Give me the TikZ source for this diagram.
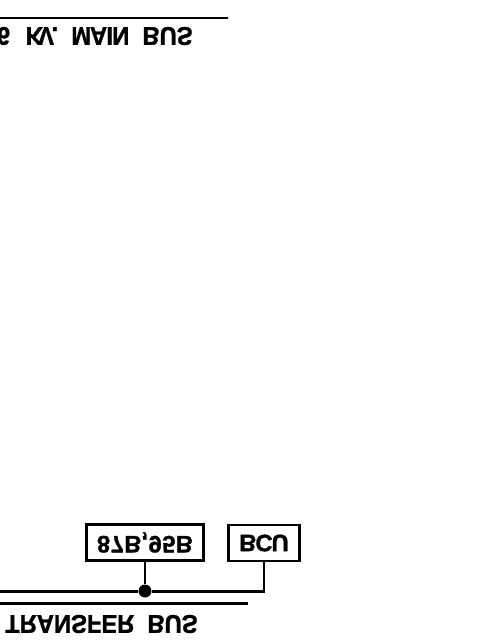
\documentclass[tikz,border=0pt]{standalone}
\usepackage{fontspec}
\setmainfont[BoldFeatures={FakeBold=1.2}]{Liberation Sans}
\tikzset{
  buslabel/.style={yscale=-1.08,inner sep=0pt,font=\fontsize{13.5}{14}\bfseries},
  relaybox/.style={draw,line width=1.5pt,minimum height=.72cm,inner sep=0pt,font=\fontsize{13.5}{14}\bfseries},
  busline/.style={line width=1.7pt}
}
\begin{document}
\begin{tikzpicture}[x=.02cm,y=-.02cm]
  \clip (0,0) rectangle (480,640);
  \coordinate (mainl) at (-10,18);
  \coordinate (mainr) at (228,18);
  \coordinate (transl) at (-10,603);
  \coordinate (transr) at (248,603);
  \coordinate (wirel) at (-10,591);
  \coordinate (wirec) at (264,591);
  \node [relaybox,minimum width=2.34cm,yscale=-1] (87b) at (145,542.5) {8\kern.02em 7\kern.02em B,\kern.02em 9\kern.02em 5\kern.02em B};
  \node [relaybox,minimum width=1.42cm,yscale=-1] (bcu) at (264,543) {B\kern-.04em C\kern-.04em U};
  \node [circle,fill,inner sep=0pt,minimum size=.26cm] (tap) at (145,591) {};
  \node [buslabel,anchor=east] (mainlab) at (193,36) {6\kern8.9pt K\kern-.2em V\kern-.1em .\ \ M\kern-.05em A\kern-.03em I\kern-.03em N\ \ BUS};
  \node [buslabel,anchor=east] (translab) at (198,624) {6\ \ KV.\ \ TRANSFER\ \ BUS};
  \draw [busline] (mainl) -- (mainr);
  \draw [busline] (transl) -- (transr);
  \draw [busline] (wirel) -- (tap);
  \draw [busline] (tap) -- (wirec) -- (bcu.north);
  \draw [busline] (tap) -- (87b.north);
\end{tikzpicture}
\end{document}
